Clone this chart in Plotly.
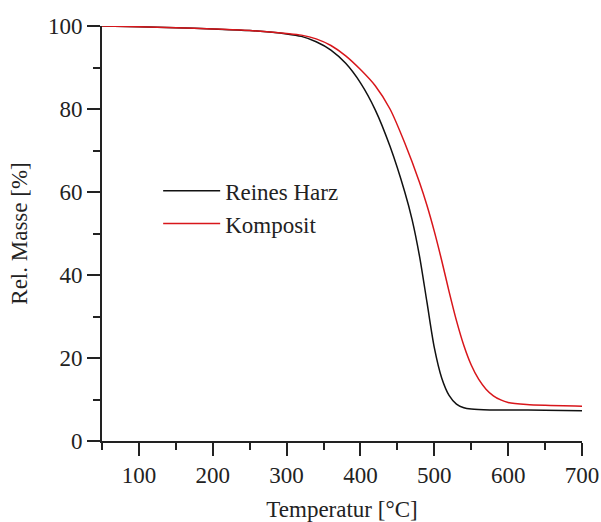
import plotly.graph_objects as go

temp_harz = [50, 100, 150, 200, 250, 300, 320, 340, 360, 380, 400, 420, 440, 460, 470,
             480, 490, 500, 510, 520, 530, 540, 550, 575, 600, 650, 700]
masse_harz = [100, 99.8, 99.6, 99.3, 98.9, 98.1, 97.5, 96.2, 94.2, 91.0, 86.3, 79.8, 71.0,
              60.0, 53.3, 44.5, 33.5, 22.5, 15.2, 11.0, 8.9, 8.0, 7.7, 7.5, 7.5, 7.4, 7.3]

temp_komp = [50, 100, 150, 200, 250, 300, 320, 340, 360, 380, 400, 420, 440, 460, 480,
             490, 500, 510, 520, 530, 540, 550, 560, 570, 580, 590, 600, 625, 650, 700]
masse_komp = [100, 99.8, 99.6, 99.3, 98.9, 98.2, 97.8, 96.9, 95.3, 92.8, 89.5, 85.6, 80.0,
              71.8, 62.3, 56.8, 50.5, 43.5, 36.0, 29.0, 23.0, 18.3, 14.9, 12.5, 10.9, 9.9,
              9.3, 8.8, 8.6, 8.4]

x_ticks = [100, 200, 300, 400, 500, 600, 700]
y_ticks = [0, 20, 40, 60, 80, 100]

FONT = "Liberation Serif"
INK = "#222222"

fig = go.Figure()
fig.add_trace(go.Scatter(x=temp_harz, y=masse_harz, mode="lines", name="Reines Harz",
                         line=dict(color="#111111", width=1.5, shape="spline", smoothing=0.8)))
fig.add_trace(go.Scatter(x=temp_komp, y=masse_komp, mode="lines", name="Komposit",
                         line=dict(color="#d8161b", width=1.5, shape="spline", smoothing=0.8)))

axis_common = dict(showline=True, linecolor=INK, linewidth=1.6, ticks="outside",
                   ticklen=13, tickwidth=1.6, tickcolor=INK, showgrid=False,
                   zeroline=False, mirror=False,
                   tickfont=dict(family=FONT, size=23, color=INK))

fig.update_xaxes(range=[50, 700], tickvals=x_ticks, automargin=False,
                 minor=dict(ticks="outside", ticklen=7, tickwidth=1.6, tickcolor=INK,
                            dtick=100, tick0=50, showgrid=False),
                 title=dict(text="Temperatur [°C]", font=dict(family=FONT, size=23, color=INK),
                            standoff=16),
                 **axis_common)
fig.update_yaxes(range=[0, 100], tickvals=y_ticks, automargin=False,
                 minor=dict(ticks="outside", ticklen=7, tickwidth=1.6, tickcolor=INK,
                            dtick=20, tick0=10, showgrid=False),
                 title=dict(text="Rel. Masse [%]", font=dict(family=FONT, size=23, color=INK),
                            standoff=14),
                 **axis_common)

fig.update_layout(
    width=601, height=522,
    margin=dict(l=102, r=19, t=26, b=81),
    plot_bgcolor="white", paper_bgcolor="white",
    font=dict(family=FONT, size=23, color=INK),
    legend=dict(x=0.117, y=0.655, xanchor="left", yanchor="top", bgcolor="rgba(0,0,0,0)",
                font=dict(family=FONT, size=23, color=INK), itemwidth=57,
                tracegroupgap=0),
    showlegend=True,
)

fig.write_html("out.html")
